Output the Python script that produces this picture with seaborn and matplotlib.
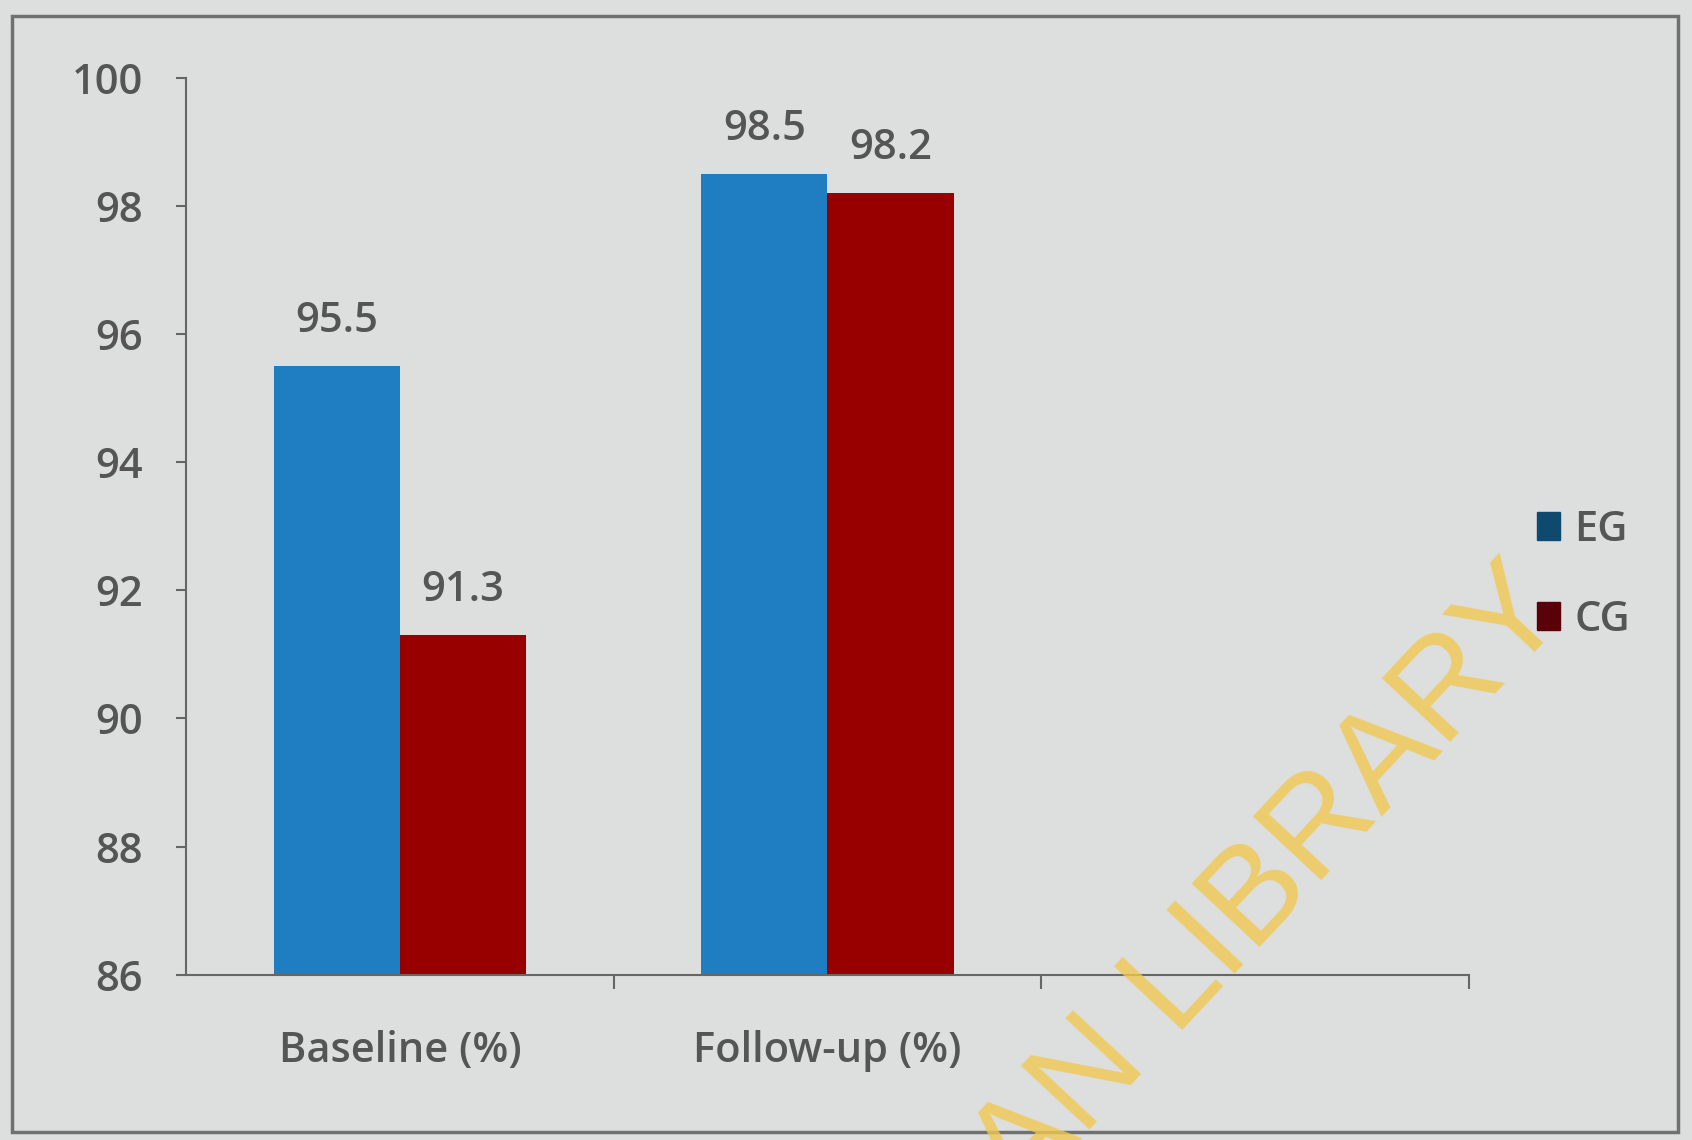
import matplotlib
matplotlib.use("Agg")
import matplotlib.pyplot as plt
from matplotlib.patches import Patch, Rectangle
import pandas as pd
import seaborn as sns

# data
categories = ["Baseline (%)", "Follow-up (%)"]
groups = ["EG", "CG"]
eg_values = [95.5, 98.5]
cg_values = [91.3, 98.2]
y_ticks = [86, 88, 90, 92, 94, 96, 98, 100]

bar_colors = {"EG": "#1f7dc1", "CG": "#980000"}
legend_colors = {"EG": "#0f4a6e", "CG": "#5a0009"}

df = pd.DataFrame({
    "period": categories * 2,
    "group": ["EG"] * len(categories) + ["CG"] * len(categories),
    "value": eg_values + cg_values,
})

sns.set_theme(style="white")
plt.rcParams["font.family"] = ["Open Sans", "DejaVu Sans"]

bg = "#dddfde"
txt = "#555555"
fig = plt.figure(figsize=(16.92, 11.4), dpi=100, facecolor=bg)
ax = fig.add_axes([0.110, 0.145, 0.758, 0.787])
ax.set_facecolor(bg)

sns.barplot(data=df, x="period", y="value", hue="group", order=categories,
            hue_order=groups, palette=bar_colors, width=0.59, saturation=1,
            linewidth=0, legend=False, ax=ax)

for cont in ax.containers:
    ax.bar_label(cont, fmt="%.1f", padding=17, fontsize=30, color=txt,
                 fontweight="semibold")

ax.set_xlim(-0.5, 2.5)
ax.set_ylim(86, 100)
ax.set_yticks(y_ticks)
ax.set_xticks([0, 1])
ax.set_xticklabels(categories)
ax.set_xticks([0.5, 1.5, 2.5], minor=True)
ax.set_xlabel("")
ax.set_ylabel("")

ax.tick_params(axis="x", which="major", length=0, pad=40, labelsize=30, labelcolor=txt)
ax.tick_params(axis="x", which="minor", length=10, width=1.5, color="#666666", direction="out", bottom=True)
ax.tick_params(axis="y", length=7, width=1.5, color="#666666", direction="out", left=True, pad=24,
               labelsize=30, labelcolor=txt)
for lab in ax.get_xticklabels() + ax.get_yticklabels():
    lab.set_fontweight("semibold")

sns.despine(ax=ax)
for s in ["left", "bottom"]:
    ax.spines[s].set_color("#666666")
    ax.spines[s].set_linewidth(1.5)

handles = [Patch(color=legend_colors[g], label=g) for g in groups]
leg = fig.legend(handles=handles, loc="center left", bbox_to_anchor=(0.886, 0.496),
                 frameon=False, fontsize=30, handlelength=0.55, handleheight=0.65,
                 handletextpad=0.35, labelspacing=1.15)
for t in leg.get_texts():
    t.set_color(txt)
    t.set_fontweight("semibold")

# outer frame of the photographed chart
fig.add_artist(Rectangle((0.007, 0.007), 0.985, 0.979, transform=fig.transFigure,
                         fill=False, edgecolor="#707070", lw=2.5))

# watermark (runs off the bottom edge, as in the source)
fig.text(0.928, 0.462, "IBADAN LIBRARY", rotation=47, rotation_mode="anchor",
         ha="right", va="baseline", fontsize=98, color="#f0c850", alpha=0.8,
         family=["Liberation Sans"])

fig.savefig("out.png", dpi=100, facecolor=bg)
